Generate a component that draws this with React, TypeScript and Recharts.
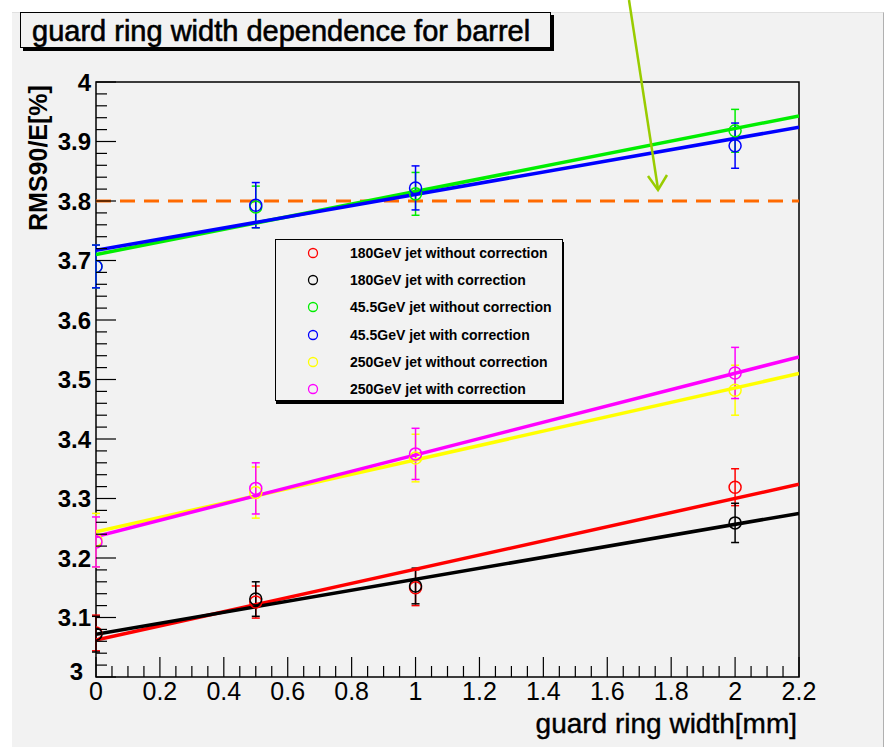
import React from 'react';
import { ComposedChart, XAxis, YAxis, Scatter, Line, ErrorBar, ReferenceLine, ReferenceArea } from 'recharts';

// guard ring widths [mm] where the points were measured
const widths = [0, 0.5, 1, 2];

// RMS90/E [%] per sample, with errors
const red180 = [3.074, 3.126, 3.150, 3.319];
const red180Err = [0.030, 0.027, 0.030, 0.031];
const black180 = [3.072, 3.131, 3.153, 3.259];
const black180Err = [0.030, 0.029, 0.030, 0.033];
const green45 = [3.690, 3.790, 3.812, 3.918];
const green45Err = [0.036, 0.035, 0.036, 0.036];
const blue45 = [3.690, 3.793, 3.822, 3.893];
const blue45Err = [0.036, 0.038, 0.037, 0.038];
const yellow250 = [3.230, 3.310, 3.368, 3.482];
const yellow250Err = [0.045, 0.043, 0.040, 0.042];
const magenta250 = [3.227, 3.317, 3.375, 3.511];
const magenta250Err = [0.042, 0.043, 0.043, 0.043];

// linear fits: value at x = 0 and x = 2.2
const fitX = [0, 2.2];
const red180Fit = [3.062, 3.324];
const black180Fit = [3.072, 3.275];
const green45Fit = [3.710, 3.943];
const blue45Fit = [3.717, 3.924];
const yellow250Fit = [3.244, 3.510];
const magenta250Fit = [3.236, 3.538];

const threshold = 3.8;

const legendLabels = [
  '180GeV jet without correction',
  '180GeV jet with correction',
  '45.5GeV jet without correction',
  '45.5GeV jet with correction',
  '250GeV jet without correction',
  '250GeV jet with correction',
];
const colors = ['#ff0000', '#000000', '#00ee00', '#0000ff', '#ffff00', '#ff00ff'];

const series = [
  { vals: red180, errs: red180Err, fit: red180Fit },
  { vals: black180, errs: black180Err, fit: black180Fit },
  { vals: green45, errs: green45Err, fit: green45Fit },
  { vals: blue45, errs: blue45Err, fit: blue45Fit },
  { vals: yellow250, errs: yellow250Err, fit: yellow250Fit },
  { vals: magenta250, errs: magenta250Err, fit: magenta250Fit },
];

// axis ticks (major ones get labels)
const yTicks: number[] = [];
for (let i = 0; i <= 50; i++) yTicks.push(Math.round(300 + i * 2) / 100);
const xTicks: number[] = [];
for (let i = 0; i <= 44; i++) xTicks.push(Math.round(i * 5) / 100);

const FONT = '"Liberation Sans", Arial, Helvetica, sans-serif';
const TICK_MARGIN = 5;

const YTick = (props: any) => {
  const { x, y, payload } = props;
  const v = payload.value;
  const major = Math.abs(v * 10 - Math.round(v * 10)) < 1e-6;
  const ax = x + TICK_MARGIN;
  const label = Number(v.toFixed(1)).toString();
  const isBottom = Math.abs(v - 3) < 1e-6;
  return (
    <g>
      <line x1={ax} x2={ax + (major ? 20 : 11)} y1={y} y2={y} stroke="#000" strokeWidth={1.2} />
      {major && (
        <text
          x={isBottom ? x - 8 : x}
          y={isBottom ? y - 6 : y}
          textAnchor="end"
          dominantBaseline="central"
          fontFamily={FONT}
          fontWeight="bold"
          fontSize={24}
          fill="#000"
        >
          {label}
        </text>
      )}
    </g>
  );
};

const XTick = (props: any) => {
  const { x, y, payload } = props;
  const v = payload.value;
  const major = Math.abs(v * 5 - Math.round(v * 5)) < 1e-6;
  const ay = y - TICK_MARGIN;
  const label = Number(v.toFixed(1)).toString();
  return (
    <g>
      <line x1={x} x2={x} y1={ay} y2={ay - (major ? 20 : 11)} stroke="#000" strokeWidth={1.2} />
      {major && (
        <text x={x} y={y - 2} dy="0.78em" textAnchor="middle" fontFamily={FONT} fontSize={25} fill="#000">
          {label}
        </text>
      )}
    </g>
  );
};

const makeMarker = (color: string) => (props: any) => (
  <circle cx={props.cx} cy={props.cy} r={6} fill="none" stroke={color} strokeWidth={1.5} />
);

export default function App() {
  return (
    <div style={{ position: 'relative', width: 888, height: 747, background: '#fff', overflow: 'hidden' }}>
      <style>{`body{margin:0}`}</style>
      <div
        style={{
          position: 'absolute', left: 12, top: 12, right: 4, bottom: 0,
          background: '#f2f2f2', borderRight: '1px solid #b0b0b0', borderTop: '1px solid #e0e0e0',
        }}
      />
      <div style={{ position: 'absolute', left: 0, top: 0 }}>
        <ComposedChart width={888} height={747} margin={{ top: 82, right: 89, left: 0, bottom: 0 }}>
          <XAxis
            type="number"
            dataKey="x"
            domain={[0, 2.2]}
            ticks={xTicks}
            interval={0}
            height={70}
            tickSize={0}
            tickMargin={TICK_MARGIN}
            tickLine={false}
            axisLine={false}
            tick={<XTick />}
            allowDataOverflow
          />
          <YAxis
            type="number"
            dataKey="y"
            domain={[3, 4]}
            ticks={yTicks}
            interval={0}
            width={96}
            tickSize={0}
            tickMargin={TICK_MARGIN}
            tickLine={false}
            axisLine={false}
            tick={<YTick />}
            allowDataOverflow
          />
          <ReferenceLine y={threshold} stroke="#ff6a00" strokeWidth={3} strokeDasharray="15 9" />
          {series.map((s, k) => {
            const pts = widths.map((w, i) => ({ x: w, y: s.vals[i], err: s.errs[i] }));
            return (
              <Scatter
                key={'pts' + k}
                data={pts}
                dataKey="y"
                shape={makeMarker(colors[k])}
                isAnimationActive={false}
              >
                <ErrorBar dataKey="err" direction="y" width={4} stroke={colors[k]} strokeWidth={1.5} />
              </Scatter>
            );
          })}
          {series.map((s, k) => (
            <Line
              key={'fit' + k}
              data={fitX.map((w, i) => ({ x: w, y: s.fit[i] }))}
              dataKey="y"
              stroke={colors[k]}
              strokeWidth={3.5}
              dot={false}
              activeDot={false}
              isAnimationActive={false}
            />
          ))}
          <ReferenceArea x1={0} x2={2.2} y1={3} y2={4} fill="none" stroke="#000" strokeWidth={1.5} />
        </ComposedChart>
      </div>

      <svg width={888} height={747} style={{ position: 'absolute', left: 0, top: 0, pointerEvents: 'none' }}>
        <text
          transform="translate(47,158) rotate(-90)"
          textAnchor="middle"
          fontFamily={FONT}
          fontWeight="bold"
          fontSize={25}
          fill="#000"
        >
          RMS90/E[%]
        </text>
        <text x={797} y={733} textAnchor="end" fontFamily={FONT} fontSize={28} fill="#000" stroke="#000" strokeWidth={0.4}>
          guard ring width[mm]
        </text>
        <line x1={629} y1={0} x2={658} y2={189} stroke="#99cc00" strokeWidth={2.5} />
        <polyline points="648,176 658,190 667,175" fill="none" stroke="#99cc00" strokeWidth={2.5} />
      </svg>

      <div
        style={{
          position: 'absolute', left: 20, top: 12, width: 531, height: 36,
          border: '1px solid #000', boxShadow: '3px 3px 0 #000', background: '#f2f2f2',
          fontFamily: FONT, fontSize: 29, lineHeight: '36px', paddingLeft: 11, boxSizing: 'border-box',
          color: '#000', whiteSpace: 'nowrap', WebkitTextStroke: '0.6px #000',
        }}
      >
        guard ring width dependence for barrel
      </div>

      <div
        style={{
          position: 'absolute', left: 275, top: 239, width: 288, height: 162,
          border: '1px solid #000', boxShadow: '1px 3px 0 #000', background: '#f2f2f2',
          boxSizing: 'border-box', fontFamily: FONT, fontWeight: 'bold', fontSize: 14, color: '#000',
        }}
      >
        {legendLabels.map((name, k) => (
          <div
            key={name}
            style={{ position: 'absolute', left: 0, top: k * 27.2, height: 26, display: 'flex', alignItems: 'center' }}
          >
            <svg width={74} height={26}>
              <circle cx={37} cy={13} r={4.5} fill="none" stroke={colors[k]} strokeWidth={1.3} />
            </svg>
            <span>{name}</span>
          </div>
        ))}
      </div>
    </div>
  );
}
